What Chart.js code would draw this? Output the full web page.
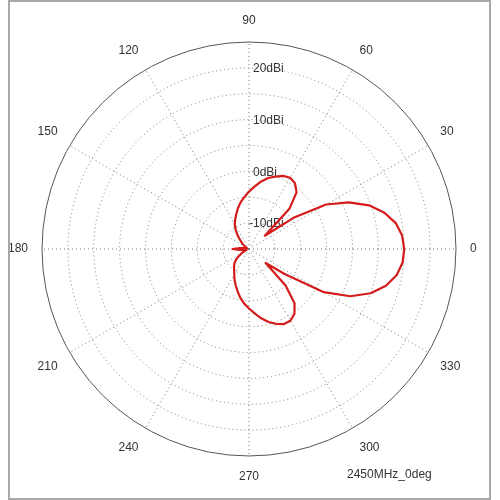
<!DOCTYPE html>
<html lang="en">
<head>
    <meta charset="UTF-8">
    <title>2450MHz_0deg</title>
    <script src="https://cdn.jsdelivr.net/npm/chart.js"></script>
    <style>
        body { margin: 0; background: #fff; }
        #wrap { position: relative; width: 500px; height: 500px; }
        #frame {
            position: absolute; left: 8px; top: 0px; width: 479px; height: 496px;
            border: 2px solid #a8a8a8; pointer-events: none;
        }
    </style>
</head>
<body>
    <div id="wrap">
        <canvas id="polar" width="500" height="500"></canvas>
        <div id="frame"></div>
    </div>

    <script>
        // gain in dBi, counter-clockwise from 0 deg in 5 deg steps
        const angleDeg = [];
        for (let a = 0; a < 360; a += 5) angleDeg.push(a);
        const gainDb = [
            15.0, 14.7, 13.8, 12.1, 9.7, 6.3, 2.2, -4.5, -11.0, -3.9, -0.7, 0.5,
            0.9, 0.6, -0.1, -0.8, -1.8, -2.9, -3.9, -4.9, -5.8, -6.8, -7.8, -8.7,
            -9.5, -10.5, -11.6, -12.6, -13.3, -13.8, -14.2, -14.5, -14.6, -14.5, -14.1, -13.2,
            -11.8, -13.2, -14.1, -14.5, -14.5, -14.0, -13.3, -12.5, -11.7, -11.0, -10.5, -10.0,
            -9.3, -8.4, -7.5, -6.5, -5.4, -4.4, -3.5, -2.5, -1.4, -0.4, 0.4, 1.0,
            1.0, 0.3, -1.3, -5.0, -10.8, -6.6, 1.7, 6.6, 10.0, 12.4, 14.0, 14.8
        ];
        const ringTicks = [-10, 0, 10, 20];
        const caption = '2450MHz_0deg';

        // radar goes clockwise from the top, so start at 90 and walk down
        const chartLabels = [];
        const chartValues = [];
        for (let i = 0; i < angleDeg.length; i++) {
            const a = (90 - 5 * i + 360) % 360;
            chartLabels.push(String(a));
            chartValues.push(gainDb[angleDeg.indexOf(a)]);
        }

        const textPlugin = {
            id: 'dbiText',
            beforeDatasetsDraw(chart) {
                const r = chart.scales.r;
                const ctx = chart.ctx;
                ctx.save();
                ctx.font = '12px "Liberation Sans", Arial, sans-serif';
                ctx.fillStyle = '#333';
                ctx.textBaseline = 'middle';
                ctx.textAlign = 'left';
                ringTicks.forEach(v => {
                    const y = r.yCenter - r.getDistanceFromCenterForValue(v);
                    const label = v + 'dBi';
                    const shift = v < 0 ? ctx.measureText('-').width : 0;
                    ctx.fillText(label, r.xCenter + 4 - shift, y + 1);
                });
                ctx.restore();
            },
            afterDraw(chart) {
                const ctx = chart.ctx;
                ctx.save();
                ctx.font = '12px "Liberation Sans", Arial, sans-serif';
                ctx.fillStyle = '#333';
                ctx.textBaseline = 'middle';
                ctx.textAlign = 'left';
                ctx.fillText(caption, 347, 475);
                ctx.restore();
            }
        };

        const ctx = document.getElementById('polar').getContext('2d');
        new Chart(ctx, {
            type: 'radar',
            data: {
                labels: chartLabels,
                datasets: [{
                    data: chartValues,
                    borderColor: '#d41c1c',
                    borderWidth: 2.2,
                    borderJoinStyle: 'round',
                    pointRadius: 0,
                    fill: false,
                    tension: 0
                }]
            },
            options: {
                responsive: false,
                animation: false,
                layout: { padding: { left: 2, right: 16, top: 8, bottom: 10 } },
                plugins: {
                    legend: { display: false },
                    tooltip: { enabled: false }
                },
                scales: {
                    r: {
                        min: -15,
                        max: 25,
                        startAngle: 0,
                        ticks: { display: false, stepSize: 5 },
                        grid: {
                            circular: true,
                            color: c => c.tick.value === 25 ? '#555' : '#7a7a7a',
                            lineWidth: 1
                        },
                        border: {
                            dash: c => c.tick.value === 25 ? [] : [1, 3]
                        },
                        angleLines: {
                            color: '#7a7a7a',
                            lineWidth: c => c.index % 6 === 0 ? 1 : 0,
                            borderDash: [1, 3]
                        },
                        pointLabels: {
                            padding: 14,
                            color: '#333',
                            font: { family: '"Liberation Sans", Arial, sans-serif', size: 12 },
                            callback: label => Number(label) % 30 === 0 ? label : ''
                        }
                    }
                }
            },
            plugins: [textPlugin]
        });
    </script>
</body>
</html>
